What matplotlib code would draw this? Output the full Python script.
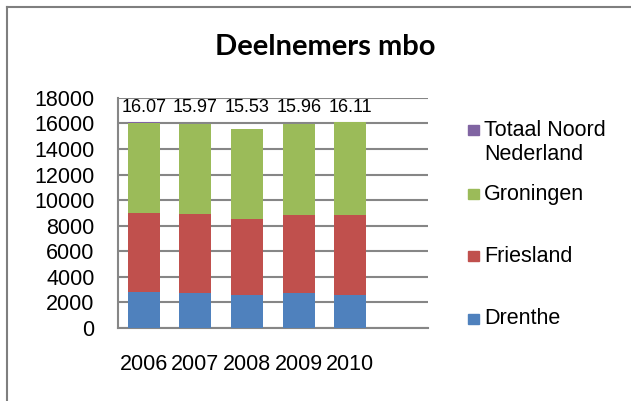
import numpy as np
import matplotlib
matplotlib.use("Agg")
import matplotlib.pyplot as plt
from matplotlib.patches import Rectangle

# data
jaren = ["2006", "2007", "2008", "2009", "2010"]
drenthe = [2810, 2760, 2560, 2710, 2610]
friesland = [6210, 6160, 5990, 6130, 6260]
groningen = [7050, 7050, 6980, 7120, 7240]
totaal_noord = [16.07, 15.97, 15.53, 15.96, 16.11]  # in duizenden

kleuren = {"Drenthe": "#4F81BD", "Friesland": "#C0504D",
           "Groningen": "#9BBB59", "Totaal": "#8064A2"}

plt.rcParams['font.family'] = ['Liberation Sans', 'DejaVu Sans']

fig = plt.figure(figsize=(6.31, 4.01), dpi=100)
ax = fig.add_axes([0.187, 0.182, 0.491, 0.574])

x = np.arange(len(jaren))
w = 0.62
d = np.array(drenthe)
f = np.array(friesland)
g = np.array(groningen)
ax.bar(x, d, w, color=kleuren["Drenthe"], zorder=3)
ax.bar(x, f, w, bottom=d, color=kleuren["Friesland"], zorder=3)
ax.bar(x, g, w, bottom=d + f, color=kleuren["Groningen"], zorder=3)
ax.bar(x, totaal_noord, w, bottom=d + f + g, color=kleuren["Totaal"], zorder=3)
# data labels of the total series sit in a row above the bars
for xi, v in zip(x, totaal_noord):
    ax.text(xi, 17250, f"{v:.2f}", ha="center", va="center", fontsize=13, zorder=4)

ax.set_xlim(-0.5, 5.5)
ax.set_ylim(0, 18000)
ax.set_yticks(np.arange(0, 18001, 2000))
ax.set_xticks(x)
ax.set_xticklabels(jaren)
ax.tick_params(axis='both', length=0, labelsize=15.5)
ax.tick_params(axis='x', pad=19)
ax.tick_params(axis='y', pad=17)
ax.yaxis.grid(True, color="#868686", linewidth=1.5, zorder=0)
for s in ["top", "right"]:
    ax.spines[s].set_visible(False)
for s in ["left", "bottom"]:
    ax.spines[s].set_color("#868686")
    ax.spines[s].set_linewidth(1.5)

fig.text(0.515, 0.883, "Deelnemers mbo", ha="center", va="center",
         fontsize=21, fontweight="bold", family=["Lato", "DejaVu Sans"])

# legend drawn by hand (marker lines up with first text line)
leg = [("Totaal Noord\nNederland", kleuren["Totaal"], 130),
       ("Groningen", kleuren["Groningen"], 194),
       ("Friesland", kleuren["Friesland"], 256),
       ("Drenthe", kleuren["Drenthe"], 319)]
H = 401.0
W = 631.0
for naam, kl, yp in leg:
    fig.patches.append(Rectangle((468 / W, 1 - (yp + 5) / H), 10.5 / W, 10.5 / H,
                                 transform=fig.transFigure, color=kl))
    for i, regel in enumerate(naam.split("\n")):
        fig.text(484 / W, 1 - (yp + 25 * i) / H, regel, ha="left", va="center",
                 fontsize=15.5)

# chart frame
fig.add_artist(plt.Line2D([7 / W, 7 / W], [0, 1 - 7 / H], color="#7f7f7f",
                          linewidth=1.5, transform=fig.transFigure))
fig.add_artist(plt.Line2D([7 / W, 1], [1 - 7 / H, 1 - 7 / H], color="#7f7f7f",
                          linewidth=1.5, transform=fig.transFigure))

fig.savefig("out.png", dpi=100)
